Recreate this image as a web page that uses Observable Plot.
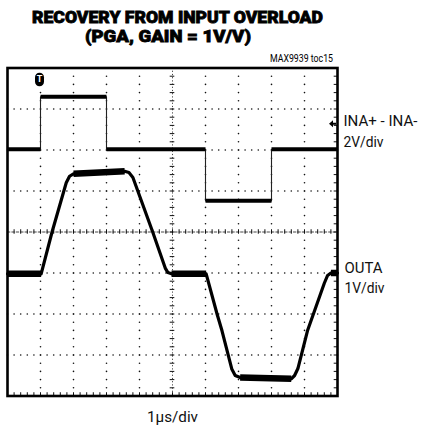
<!DOCTYPE html>
<html><head><meta charset="utf-8">
<script src="https://cdn.jsdelivr.net/npm/d3@7"></script>
<script src="https://cdn.jsdelivr.net/npm/@observablehq/plot@0.6"></script>
<style>
body{margin:0;background:#fff;}
#wrap{position:relative;width:421px;height:431px;overflow:hidden;background:#fff;}
svg{display:block;}
</style></head><body>
<div id="wrap"><div id="head"></div><div id="chart"></div></div>
<script>
// ---- text ----
const titleLines = ["RECOVERY FROM INPUT OVERLOAD", "(PGA, GAIN = 1V/V)"];
const noteText = "MAX9939 toc15";
const ch1Labels = ["INA+ - INA-", "2V/div"];
const ch2Labels = ["OUTA", "1V/div"];
const timeLabel = "1\u03bcs/div";

// ---- scope settings (divisions) ----
const xDivs = [0, 10];          // 10 horizontal divisions, 1µs/div
const yDivs = [-4, 4];          // 8 vertical divisions
const triggerTime = 0.97;
const ch1GroundLevel = 2.64;

// ---- channel 1: INA+ - INA- (2V/div), step levels ----
const inputT0 = [0, 1, 3, 6, 8];
const inputT1 = [1, 3, 6, 8, 10];
const inputV  = [2.02, 3.30, 2.02, 0.76, 2.02];

// ---- channel 2: OUTA (1V/div) ----
const outT = [0, 1.02, 1.35, 1.78, 1.88, 2.0, 3.55, 3.68, 3.8, 4.40, 4.78, 4.86, 4.97, 6.02, 6.35, 6.5, 6.8, 6.9, 7.05, 8.0, 8.6, 8.7, 8.8, 9.09, 9.6, 9.7, 9.8, 10];
const outV = [-1.02, -1.02, 0, 1.2, 1.36, 1.42, 1.48, 1.45, 1.33, 0, -0.88, -0.99, -1.02, -1.02, -2.0, -2.41, -3.35, -3.5, -3.55, -3.58, -3.58, -3.5, -3.33, -2.41, -1.25, -1.06, -1.0, -1.0];
// flat (noisy, thick) segments of OUTA: start/end index into outT/outV
const outFlatFrom = [0, 5, 12, 18, 26];
const outFlatTo   = [1, 6, 13, 20, 27];

// ---- derived tables ----
const inputLevels = inputT0.map((t0, i) => ({t0, t1: inputT1[i], v: inputV[i]}));
const inputStep = inputLevels.flatMap(d => [{t: d.t0, v: d.v}, {t: d.t1, v: d.v}]);
const outPts = outT.map((t, i) => ({t, v: outV[i]}));
const outFlats = outFlatFrom.map((a, i) => ({t0: outT[a], v0: outV[a], t1: outT[outFlatTo[i]], v1: outV[outFlatTo[i]]}));

const minorX = d3.range(0, 50.5).map(i => i * 0.2);
const minorY = d3.range(0, 40.5).map(i => -4 + i * 0.2);
const gridY = [-3, -2, -1, 1, 2, 3];
const gridX = [1, 2, 3, 4, 6, 7, 8, 9];
const dotsH = gridY.flatMap(y => minorX.map(x => ({x, y})));
const dotsV = gridX.flatMap(x => minorY.map(y => ({x, y})));

// custom symbols
const pill = {draw(ctx) {
  const w = 4.5, h = 6.8;
  ctx.moveTo(-w, -h + w);
  ctx.arc(0, -h + w, w, Math.PI, 0);
  ctx.lineTo(w, h - w);
  ctx.arc(0, h - w, w, 0, Math.PI);
  ctx.closePath();
}};
const arrow = {draw(ctx) {
  ctx.moveTo(-3.5, 0); ctx.lineTo(0.5, -3.5); ctx.lineTo(0.5, 3.5); ctx.closePath();
  ctx.rect(0.5, -1, 3, 2);
}};

const HEAD_H = 65;
const FONT_BOLD = "'Liberation Sans Narrow', Roboto, 'Liberation Sans', sans-serif";
const FONT_REG = "'Liberation Sans Narrow', Roboto, 'Liberation Sans', sans-serif";

// ---- header (title + note) ----
const head = d3.select("#head").append("svg").attr("width", 421).attr("height", HEAD_H);
const titleSpec = [
  {x0: 32, w: 291, y: 22.8, size: 16.5},
  {x0: 85, w: 166, y: 41.8, size: 16.5}
];
titleLines.forEach((s, i) => {
  const sp = titleSpec[i];
  head.append("text").attr("x", sp.x0).attr("y", sp.y)
    .attr("font-family", FONT_BOLD).attr("font-weight", 900).attr("font-size", sp.size)
    .attr("textLength", sp.w).attr("lengthAdjust", "spacingAndGlyphs")
    .attr("stroke", "black").attr("stroke-width", 0.8)
    .text(s);
});
head.append("text").attr("x", 270).attr("y", 61.5)
  .attr("font-family", FONT_REG).attr("font-size", 11)
  .attr("textLength", 63).attr("lengthAdjust", "spacingAndGlyphs")
  .text(noteText);

// ---- the scope plot ----
const H = 431 - HEAD_H;
const chart = Plot.plot({
  width: 421, height: H,
  marginLeft: 7, marginRight: 84, marginTop: 67.5 - HEAD_H, marginBottom: 35.5,
  x: {domain: xDivs, axis: null},
  y: {domain: yDivs, axis: null},
  style: {background: "white", overflow: "visible"},
  marks: [
    Plot.dot(dotsH, {x: "x", y: "y", r: 0.8, fill: "#111", stroke: null}),
    Plot.dot(dotsV, {x: "x", y: "y", r: 0.8, fill: "#111", stroke: null}),
    Plot.ruleY([0], {stroke: "#333", strokeWidth: 0.9, strokeDasharray: "3.3,1.1"}),
    Plot.ruleX([5], {stroke: "#333", strokeWidth: 0.9, strokeDasharray: "1.2,2"}),
    Plot.ruleX(minorX, {x: d => d, y1: -0.055, y2: 0.055, stroke: "#111", strokeWidth: 1}),
    Plot.ruleY(minorY, {y: d => d, x1: 4.93, x2: 5.07, stroke: "#111", strokeWidth: 1}),
    Plot.ruleX(minorX, {x: d => d, y1: -4, y2: -3.92, stroke: "#111", strokeWidth: 1}),
    Plot.ruleY(minorY, {y: d => d, x1: 9.9, x2: 10, stroke: "#111", strokeWidth: 1}),
    // channel 1
    Plot.line(inputStep, {x: "t", y: "v", stroke: "#222", strokeWidth: 1.1}),
    Plot.link(inputLevels, {x1: "t0", x2: "t1", y1: "v", y2: "v", stroke: "black", strokeWidth: 4}),
    // channel 2
    Plot.line(outPts, {x: "t", y: "v", stroke: "black", strokeWidth: 3.2, strokeLinejoin: "round"}),
    Plot.link(outFlats, {x1: "t0", y1: "v0", x2: "t1", y2: "v1", stroke: "black", strokeWidth: 6.5}),
    // frame
    Plot.frame({stroke: "black", strokeWidth: 2.6}),
    // markers
    Plot.dot([triggerTime], {x: d => d, y: 4, dy: 11.5, symbol: pill, fill: "black", stroke: null, r: 5}),
    Plot.text(["T"], {x: triggerTime, y: 4, dy: 11, text: d => d, fill: "white", fontWeight: "bold", fontSize: 9, fontFamily: "Roboto, sans-serif"}),
    Plot.dot([ch1GroundLevel], {x: 10, y: d => d, dx: -5, symbol: arrow, fill: "black", stroke: null, r: 4}),
    // labels
    Plot.text([ch1Labels[0]], {x: 10, y: 2.585, dx: 6, text: d => d, textAnchor: "start", lineAnchor: "bottom", fontSize: 15, fontFamily: FONT_REG, fill: "#111"}),
    Plot.text([ch1Labels[1]], {x: 10, y: 2.073, dx: 6, text: d => d, textAnchor: "start", lineAnchor: "bottom", fontSize: 15, fontFamily: FONT_REG, fill: "#111"}),
    Plot.text([ch2Labels[0]], {x: 10, y: -1.0, dx: 7, text: d => d, textAnchor: "start", lineAnchor: "bottom", fontSize: 15, fontFamily: FONT_REG, fill: "#111"}),
    Plot.text([ch2Labels[1]], {x: 10, y: -1.49, dx: 7, text: d => d, textAnchor: "start", lineAnchor: "bottom", fontSize: 15, fontFamily: FONT_REG, fill: "#111"}),
    Plot.text([timeLabel], {x: 5, y: -4, dy: 25.5, text: d => d, lineAnchor: "bottom", fontSize: 15, fontFamily: FONT_REG, fill: "#111"})
  ]
});
document.getElementById("chart").appendChild(chart);

// fit label widths to the reference
const widths = {"INA+ - INA-": 74, "2V/div": 40, "OUTA": 38, "1V/div": 40, "1\u03bcs/div": 51};
d3.select(chart).selectAll("text").each(function() {
  const s = this.textContent;
  if (widths[s]) {
    this.setAttribute("textLength", widths[s]);
    this.setAttribute("lengthAdjust", "spacingAndGlyphs");
  }
});
</script>
</body></html>
